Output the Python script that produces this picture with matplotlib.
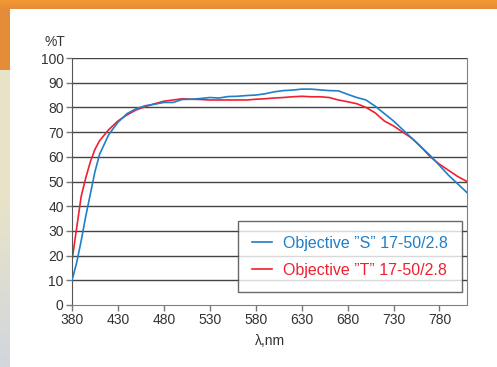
import numpy as np
import matplotlib
matplotlib.use("Agg")
import matplotlib.pyplot as plt

plt.rcParams['font.family'] = ['Liberation Sans', 'DejaVu Sans']

# wavelength grid, nm
wl = [380, 385, 390, 395, 400, 405, 410, 420, 430, 440, 450, 460, 470, 480, 490,
      500, 510, 520, 530, 540, 550, 560, 570, 580, 590, 600, 610, 620, 630, 640,
      650, 660, 670, 680, 690, 700, 710, 720, 730, 740, 750, 760, 770, 780, 790,
      800, 810]

# transmission, %
t_s = [10, 17, 26, 36, 45, 54, 61, 69, 74, 77.5, 79.5, 80.7, 81.3, 82, 82,
       83.2, 83.3, 83.6, 84, 83.8, 84.4, 84.5, 84.8, 85, 85.5, 86.3, 86.8, 87, 87.4, 87.4,
       87.1, 86.8, 86.7, 85.3, 84, 83, 80.5, 77.5, 74.5, 71, 67.5, 64, 60.5, 56.5, 52.5,
       49, 45.5]
t_t = [18, 31, 44, 51.5, 58, 63, 66.5, 71, 74.5, 77, 79, 80.3, 81.5, 82.5, 83,
       83.5, 83.3, 83.2, 83, 83, 83, 83, 83, 83.3, 83.5, 83.8, 84, 84.3, 84.5, 84.3,
       84.3, 84, 83, 82.3, 81.5, 80, 77.8, 74.5, 72.5, 70, 67.5, 64, 60, 57, 54.5,
       52, 50]

xticks = [380, 430, 480, 530, 580, 630, 680, 730, 780]
yticks = [0, 10, 20, 30, 40, 50, 60, 70, 80, 90, 100]

W, H = 497, 367
fig = plt.figure(figsize=(W / 100, H / 100), dpi=100)

# page background: orange header, side strip, white panel
img = np.ones((H, W, 3))
orange_top = np.array([0.95, 0.60, 0.20])
orange_low = np.array([0.90, 0.55, 0.22])
for r in range(9):
    img[r, :] = orange_top + (orange_low - orange_top) * r / 9
for r in range(9, H):
    if r < 70:
        c = orange_low
    elif r < 200:
        c = np.array([0.91, 0.89, 0.78])
    else:
        f = (r - 200) / (H - 200)
        c = np.array([0.91, 0.89, 0.78]) * (1 - f) + np.array([0.82, 0.84, 0.87]) * f
    img[r, :10] = c
bg = fig.add_axes([0, 0, 1, 1], zorder=-1)
bg.imshow(img, aspect='auto', extent=[0, W, H, 0])
bg.axis('off')

ax = fig.add_axes([72 / W, 1 - 305 / H, (467 - 72) / W, (305 - 58) / H])
ax.set_facecolor('none')

for y in yticks[1:]:
    ax.axhline(y, color='#444444', lw=1.0, zorder=1)

ax.plot(wl, t_s, color='#1f7fc8', lw=1.2, label='Objective ”S” 17-50/2.8', zorder=3)
ax.plot(wl, t_t, color='#f02030', lw=1.2, label='Objective ”T” 17-50/2.8', zorder=2)

ax.set_xlim(380, 810)
ax.set_ylim(0, 100)
ax.set_xticks(xticks)
ax.set_yticks(yticks)
ax.tick_params(labelsize=10, colors='#333333', length=4, width=1, pad=2)
ax.tick_params(axis='both', color='#777777')
for s in ['top', 'right', 'bottom']:
    ax.spines[s].set_color('#808080')
ax.spines['left'].set_color('#555555')
ax.spines['top'].set_visible(False)

ax.set_xlabel('λ,nm', fontsize=10, color='#333333', labelpad=5)
ax.text(-0.018, 1.035, '%T', transform=ax.transAxes, fontsize=10, color='#333333',
        ha='right', va='bottom')

leg = ax.legend(loc='lower right', bbox_to_anchor=(0.987, 0.053), fontsize=11.5,
                frameon=True, fancybox=False, handlelength=1.25, handletextpad=0.65,
                borderpad=0.9, labelspacing=0.75, borderaxespad=0)
leg.get_frame().set_edgecolor('#444444')
leg.get_frame().set_linewidth(1.0)
for txt, line in zip(leg.get_texts(), leg.get_lines()):
    txt.set_color(line.get_color())

fig.savefig('out.png', dpi=100)
